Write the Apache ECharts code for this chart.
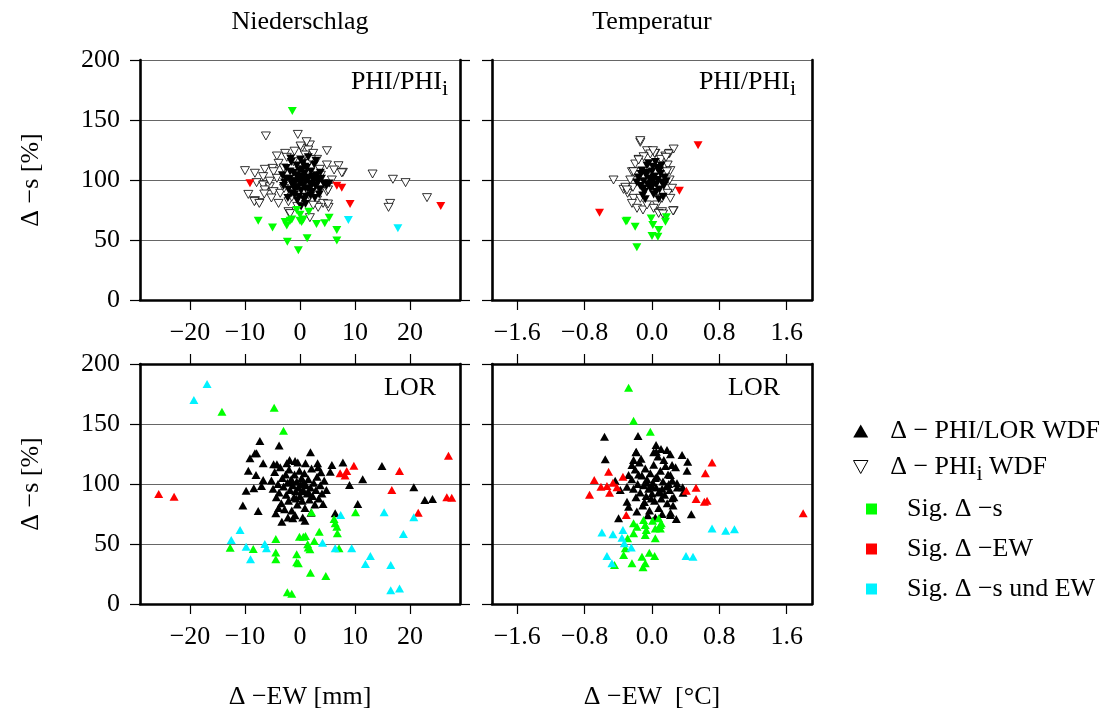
<!DOCTYPE html>
<html><head><meta charset="utf-8">
<script src="https://cdn.jsdelivr.net/npm/echarts@6/dist/echarts.min.js"></script>
<style>html,body{margin:0;padding:0;background:#fff}#c{width:1111px;height:713px}</style>
</head><body><div id="c"></div>
<script>
// ---------- tick labels ----------
const xTicksMM = [-20, -10, 0, 10, 20];
const xTicksC = [-1.6, -0.8, 0.0, 0.8, 1.6];
const yTicks = [0, 50, 100, 150, 200];

// ---------- Panel 1: Niederschlag, PHI/PHIi ----------
const p1Open = [[-6.2,136.7],[-0.4,138],[1.8,129.2],[0.3,126.4],[1.5,125],[4.9,124.4],[-2.7,122.2],[-4.2,120],[-2.4,118.9],[0.9,120.8],[2.4,122.2],[3.1,117.2],[-3.9,113.9],[-5,109.7],[-6.4,108.9],[-10,107.8],[-8.2,105.6],[-6.7,102.8],[-4.8,106.9],[-4.2,101.4],[4.9,112.5],[7.0,111.9],[7.8,106.4],[6.2,108.3],[3.6,108.9],[13.2,105],[-7.9,97.8],[-6.7,95.8],[-5.5,94.4],[-6.4,91.7],[-4.8,90.3],[-3.6,88.9],[-8.2,82.8],[-7.4,81.1],[-3.9,80.5],[-2.1,81.9],[-1.5,85.6],[0,83.3],[1.8,86.1],[3.1,83.3],[4.2,80.5],[3.3,77.2],[5.2,77.2],[1.8,68.6],[-2.1,73.6],[3.6,91.7],[4.9,90.3],[4.5,96.7],[2.7,101.4],[1.5,113.9],[-1.2,115.3],[1.2,131.9],[0.1,128.3],[16.9,100.6],[19.2,97.8],[23.1,85.3],[16.4,80.5],[16.1,77.2],[-6.5,88.3],[-9.4,88],[-8.3,82],[-7.4,80.5],[-1.8,72],[5.1,91.7],[5.1,80],[7.6,106],[-3.0,110],[-1.0,124],[2.0,117],[-5.5,99],[5.8,100],[3.8,104],[-2.9,93],[-0.5,78],[2.4,79],[-5.2,85]];
const p1Core = [[-3.2,104],[-2.8,98],[-2.5,110],[-2.1,92],[-1.9,101],[-1.6,115],[-1.4,96],[-1.2,106],[-1.0,88],[-0.8,99],[-0.6,112],[-0.4,94],[-0.3,103],[-0.1,108],[0.0,97],[0.2,91],[0.3,101],[0.5,114],[0.6,95],[0.8,105],[0.9,99],[1.1,86],[1.2,110],[1.4,93],[1.6,102],[1.8,97],[2.0,107],[2.2,90],[2.4,100],[2.6,113],[2.8,95],[3.0,104],[3.3,98],[3.6,92],[3.9,101],[4.3,97],[-2.2,85],[-0.5,83],[0.7,84],[1.9,87],[-3.0,95],[-1.7,118],[0.1,117],[1.5,119],[2.9,116],[-0.9,92],[0.4,109],[1.0,93],[-1.3,99],[2.3,103],[0.0,100],[1.3,100],[-0.7,104],[3.5,88],[4.8,95],[5.3,97],[0.2,78],[1.0,80],[-1.5,89],[2.7,85],[-2.6,101],[-1.1,94],[0.5,103],[1.7,92],[3.1,100],[-0.2,86],[2.1,96],[-1.8,107],[0.9,111],[3.7,106]];
const p1Green = [[-1.4,157.5],[-7.6,66],[-5.0,60.5],[-2.7,65],[-2.4,62],[-1.8,66],[-1.5,67],[-0.6,75],[0,71],[0,66],[0.3,65],[0.6,67],[1.6,73.5],[-2.3,48.5],[-0.3,41.5],[1.3,51.4],[3.0,63.3],[4.5,64],[5.3,68.6],[6.7,58.3],[6.7,49.5]];
const p1Red = [[-9.1,97.2],[6.7,95.3],[7.6,93.6],[9.1,80],[25.6,78.3]];
const p1Cyan = [[8.8,66.7],[17.8,59.7]];

// ---------- Panel 2: Temperatur, PHI/PHIi ----------
const p2Open = [[-0.139,131.4],[-0.059,124.4],[0.039,122.2],[-0.02,121.7],[0.158,120],[0.209,122.2],[0.107,117.2],[-0.159,117.2],[-0.199,113.3],[-0.1,119.4],[0.186,112.5],[0.218,107.8],[-0.238,106.9],[-0.457,100],[-0.258,100],[-0.338,92.2],[-0.29,88.9],[-0.226,93.9],[0.209,100],[0.238,93.1],[0.186,88.9],[0.218,84.7],[-0.219,84.7],[-0.238,80.5],[-0.178,76.4],[-0.107,75],[0.059,79.2],[0.119,73.6],[0.257,74.4],[-0.059,79.2],[-0.139,84.7],[0.119,84.7],[0.178,106.9],[-0.178,104.2],[0.019,76.4],[-0.139,132.8],[0.257,125.8],[0.198,121.7],[0.166,118.9],[0.25,74.2],[0.079,72.2],[0.131,71.7],[-0.317,93.9],[-0.297,91.7],[-0.219,106.9],[-0.159,116.7],[0.031,122.2],[0.012,124.4]];
const p2Core = [[-0.16,102],[-0.14,95],[-0.12,108],[-0.10,99],[-0.09,90],[-0.07,104],[-0.06,112],[-0.05,96],[-0.03,101],[-0.02,93],[0.00,107],[0.01,99],[0.02,88],[0.03,103],[0.05,96],[0.06,110],[0.07,100],[0.09,92],[0.10,105],[0.12,98],[0.13,86],[0.15,102],[-0.11,87],[-0.04,114],[0.04,115],[0.11,112],[-0.08,84],[0.08,84],[0.0,94],[-0.01,97],[0.02,102],[-0.13,105],[0.14,95],[0.17,99],[-0.18,98],[0.05,90],[-0.06,106],[0.09,108],[0.01,111],[-0.1,93]];
const p2Green = [[-0.297,66],[-0.2,61],[-0.01,68],[0.01,62.5],[0,53.3],[0.08,58.3],[0.07,52.8],[0.17,69],[0.16,65.3],[-0.18,43.9],[-0.31,65.5]];
const p2Red = [[0.547,129],[0.325,91],[-0.623,72.8]];
const p2Cyan = [];

// ---------- Panel 3: Niederschlag, LOR ----------
const p3Black = [[-7.3,135.8],[-3.8,132],[-7.9,125.6],[-8.2,125.6],[-9.1,121.4],[-6.7,117.2],[-9.4,111],[-8,107.5],[-6.7,103.3],[-7,98.3],[-8.4,96.4],[-9.8,94.4],[-10.4,82],[-7.6,77.5],[-4.4,75.6],[-3.3,68.6],[-1.3,71.4],[0.9,69.4],[1.9,126.4],[3.2,117.2],[3.8,109.7],[5.8,115.8],[5.5,110.3],[7.8,118],[11.4,104],[14.9,115],[9.0,99.2],[20.7,97.2],[22.7,86.7],[24.1,87.5],[10.5,83.3],[6.4,75.6],[4.2,83.3],[-4.2,116.4],[-4.8,116.4],[-2.4,117.2],[-0.9,119.2],[1.0,117.2],
[-5.2,103],[-4.9,96],[-4.6,110],[-4.3,89],[-4.0,100],[-3.8,93],[-3.6,114],[-3.4,84],[-3.2,105],[-3.0,98],[-2.8,79],[-2.6,108],[-2.5,91],[-2.3,101],[-2.1,86],[-2.0,112],[-1.8,95],[-1.6,104],[-1.5,78],[-1.3,99],[-1.1,89],[-1.0,108],[-0.8,94],[-0.6,102],[-0.5,83],[-0.3,97],[-0.1,111],[0.0,90],[0.1,100],[0.3,105],[0.4,86],[0.6,95],[0.8,109],[0.9,80],[1.1,99],[1.3,92],[1.5,104],[1.7,87],[1.9,97],[2.1,113],[2.3,90],[2.5,101],[2.7,83],[2.9,95],[3.1,106],[3.4,88],[3.7,99],[4.0,92],[4.4,103],[4.8,95],[-3.9,80],[-0.9,74],[0.5,72],[2.0,76],[-2.2,72],[-0.4,118],[-1.9,120],[3.3,114],[0.2,94],[-0.7,88],[1.6,93],[-1.4,102],[0.7,101]];
const p3Green = [[-14.2,160.3],[-4.7,163.6],[-3.0,144.4],[2.1,76.4],[10.1,76.4],[-12.7,46.9],[-8.5,45.8],[-4.4,54.2],[-4.4,43],[-4.4,37.2],[-0.6,41.4],[-0.6,34.7],[-0.3,34],[-0.1,56],[0.6,56],[1.0,56.7],[1.4,49.7],[1.5,47],[1.8,45.6],[2.6,52.5],[3.5,60.3],[1.9,26],[4.7,23.3],[-2.3,9.7],[-1.5,8.6],[6.2,70.8],[6.4,67.2],[6.7,64.4],[6.8,58.9],[7.1,46.4]];
const p3Red = [[-25.7,91.7],[-22.9,89.4],[27,123.6],[26.7,88.9],[27.6,88.6],[21.5,76],[16.7,95],[18.1,110.8],[9.8,115.2],[8.5,110.8],[7.3,108.9],[8.2,107]];
const p3Cyan = [[-16.9,183.3],[-19.3,170],[-10.9,61.7],[-12.5,53.3],[-9.8,47.8],[-9.0,37.2],[-6.4,50],[-6.1,46.4],[4.1,51.1],[6.4,46.4],[7.4,74.2],[9.4,46.4],[12.8,40],[11.9,33.3],[15.3,76.4],[16.5,32.5],[16.5,11.4],[18.1,13],[18.8,58.3],[20.7,72.2]];

// ---------- Panel 4: Temperatur, LOR ----------
const p4Black = [[-0.564,139.4],[-0.166,140],[-0.555,120.6],[-0.187,126.9],[0.048,132.5],[0.107,129.2],[0.178,128.3],[0.218,124.7],[0.357,124.2],[0.424,118.6],[0.416,111.1],[0.238,115.8],[0.051,126.9],[-0.397,71.4],[0.289,70.8],[0.467,74.7],[0.218,74.2],[-0.297,97.8],[-0.377,95],[-0.437,102.8],[0.238,88.1],[0.364,97.2],[0.297,100.6],[0.218,107.5],[-0.278,81.1],[-0.297,85.3],[-0.238,115.8],[-0.219,120],[-0.278,107.5],[0.368,92.8],[-0.19,126.4],[0.02,126.4],
[-0.24,104],[-0.22,96],[-0.2,112],[-0.19,89],[-0.17,100],[-0.15,118],[-0.14,93],[-0.12,107],[-0.11,82],[-0.1,99],[-0.08,113],[-0.07,90],[-0.06,104],[-0.04,96],[-0.03,78],[-0.02,109],[0.0,92],[0.01,101],[0.02,116],[0.03,86],[0.05,97],[0.06,106],[0.08,80],[0.09,94],[0.1,111],[0.11,88],[0.13,102],[0.14,120],[0.15,91],[0.17,98],[0.18,84],[0.19,108],[0.21,95],[0.22,76],[0.24,103],[0.26,89],[0.28,114],[0.3,97],[-0.18,77],[-0.05,74],[0.04,72],[0.12,75],[-0.13,121],[0.07,123],[-0.01,88],[0.16,115],[-0.09,85],[0.2,100],[-0.16,108],[0.25,82],[0.0,98],[0.08,93],[-0.06,101],[0.12,96],[0.04,105]];
const p4Green = [[-0.278,180.3],[-0.219,152.8],[-0.02,143.6],[0.079,71.4],[-0.1,70],[-0.219,67.2],[-0.178,64.4],[-0.08,65.8],[-0.068,61.7],[0.039,63],[0.099,65.8],[0.099,63],[-0.219,58.9],[-0.08,57.5],[0.039,54.7],[-0.29,54.7],[-0.317,46.4],[-0.337,40.8],[-0.238,33.9],[-0.445,32.5],[-0.119,39.4],[-0.032,42.8],[0.031,40],[-0.08,33.9],[-0.107,30.6],[0.007,69.4],[0.11,67.2]];
const p4Red = [[1.795,75.6],[-0.742,91],[-0.686,103.3],[-0.606,97.8],[-0.535,98.3],[-0.464,101.1],[-0.504,92.8],[-0.416,97.2],[-0.516,110.3],[-0.345,106.1],[-0.306,74.2],[0.408,94.4],[0.523,96.9],[0.523,87.5],[0.622,85.3],[0.654,86.1],[0.634,108.9],[0.713,118]];
const p4Cyan = [[-0.595,59.5],[-0.464,58.2],[-0.345,61.7],[-0.357,55.3],[-0.329,50.6],[-0.246,47],[-0.535,40],[-0.476,33.9],[0.713,62.9],[0.875,61.1],[0.979,62.2],[0.404,40],[0.487,39.4]];

// ---------- names ----------
const S_BLACK = 'Δ − PHI/LOR WDF';
const S_OPEN = 'Δ − PHIi WDF';
const S_CORE = 'PHI WDF';
const S_G = 'Sig. Δ −s';
const S_R = 'Sig. Δ −EW';
const S_C = 'Sig. Δ −s und EW';

const F = 'Liberation Serif';
const FS = 26;
const chart = echarts.init(document.getElementById('c'), null, {renderer: 'canvas'});

const grids = [
  {left: 140, top: 60, width: 320, height: 240},
  {left: 492, top: 60, width: 320, height: 240},
  {left: 140, top: 364, width: 320, height: 240},
  {left: 492, top: 364, width: 320, height: 240}
];
const minusFmt = d => v => (v < 0 ? '\u2212' : '') + Math.abs(v).toFixed(d);
const thick = {show: true, onZero: false, lineStyle: {color: '#000', width: 2.6}};
const lblStyle = {color: '#000', fontFamily: F, fontSize: FS};

function xAx(gi, pos, lim, ticks, dec, showLbl, name) {
  return {
    type: 'value', gridIndex: gi, position: pos, min: -lim, max: lim,
    axisLine: thick, splitLine: {show: false},
    axisTick: {show: true, inside: false, length: 10, customValues: ticks, lineStyle: {color: '#000', width: 1.2}},
    axisLabel: Object.assign({show: showLbl, margin: 20, customValues: ticks, formatter: minusFmt(dec)}, lblStyle),
    name: name || '', nameLocation: 'middle', nameGap: 80,
    nameTextStyle: {color: '#000', fontFamily: F, fontSize: FS}
  };
}
function yAx(gi, pos, ticksShow, lbl, name, split) {
  return {
    type: 'value', gridIndex: gi, position: pos, min: 0, max: 200, interval: 50,
    axisLine: thick,
    axisTick: {show: ticksShow, inside: false, length: 10, lineStyle: {color: '#000', width: 1.2}},
    axisLabel: Object.assign({show: lbl, margin: 20}, lblStyle),
    splitLine: {show: split, lineStyle: {color: '#666', width: 1.2}},
    name: name || '', nameLocation: 'middle', nameGap: 96, nameRotate: 90,
    nameTextStyle: {color: '#000', fontFamily: F, fontSize: FS}
  };
}

const xAxis = [
  xAx(0, 'bottom', 29.1, xTicksMM, 0, true),
  xAx(1, 'bottom', 1.9, xTicksC, 1, true),
  xAx(2, 'bottom', 29.1, xTicksMM, 0, true, 'Δ −EW [mm]'),
  xAx(2, 'top', 29.1, xTicksMM, 0, false),
  xAx(3, 'bottom', 1.9, xTicksC, 1, true, 'Δ −EW  [°C]'),
  xAx(3, 'top', 1.9, xTicksC, 1, false)
];
const yAxis = [
  yAx(0, 'left', true, true, 'Δ −s [%]', true),
  yAx(0, 'right', true, false, '', false),
  yAx(1, 'left', true, false, '', true),
  yAx(1, 'right', false, false, '', false),
  yAx(2, 'left', true, true, 'Δ −s [%]', true),
  yAx(2, 'right', true, false, '', false),
  yAx(3, 'left', true, false, '', true),
  yAx(3, 'right', false, false, '', false)
];

const GREEN = '#00ff00', RED = '#ff0000', CYAN = '#00f2ff';
function sc(name, xi, yi, data, color, rot, open, z) {
  return {
    type: 'scatter', name: name, xAxisIndex: xi, yAxisIndex: yi, data: data,
    symbol: 'triangle', symbolSize: [9, 8], symbolRotate: rot, z: z,
    itemStyle: open ? {color: '#fff', borderColor: '#000', borderWidth: 0.8, opacity: 1}
                    : {color: color, opacity: 1},
    emphasis: {disabled: true}, animation: false
  };
}
const series = [
  sc(S_BLACK, 2, 4, p3Black, '#000', 0, false, 2),
  sc(S_G, 2, 4, p3Green, GREEN, 0, false, 3),
  sc(S_R, 2, 4, p3Red, RED, 0, false, 3),
  sc(S_C, 2, 4, p3Cyan, CYAN, 0, false, 3),
  sc(S_BLACK, 4, 6, p4Black, '#000', 0, false, 2),
  sc(S_G, 4, 6, p4Green, GREEN, 0, false, 3),
  sc(S_R, 4, 6, p4Red, RED, 0, false, 3),
  sc(S_C, 4, 6, p4Cyan, CYAN, 0, false, 3),
  sc(S_OPEN, 0, 0, p1Open, '#000', 180, true, 2),
  sc(S_CORE, 0, 0, p1Core, '#000', 180, false, 2),
  sc(S_G, 0, 0, p1Green, GREEN, 180, false, 3),
  sc(S_R, 0, 0, p1Red, RED, 180, false, 3),
  sc(S_C, 0, 0, p1Cyan, CYAN, 180, false, 3),
  sc(S_OPEN, 1, 2, p2Open, '#000', 180, true, 2),
  sc(S_CORE, 1, 2, p2Core, '#000', 180, false, 2),
  sc(S_G, 1, 2, p2Green, GREEN, 180, false, 3),
  sc(S_R, 1, 2, p2Red, RED, 180, false, 3),
  sc(S_C, 1, 2, p2Cyan, CYAN, 180, false, 3)
];

const richLeg = {
  b: {fontFamily: F, fontSize: FS, color: '#000', padding: [0, 0, 0, 17]},
  c: {fontFamily: F, fontSize: FS, color: '#000', padding: [0, 0, 0, 25]},
  a: {fontFamily: F, fontSize: FS, color: '#000'},
  s: {fontFamily: F, fontSize: 22, color: '#000', padding: [14, 0, 0, 0]}
};
const legend = [
  {
    left: 848, top: 413, orient: 'vertical', itemWidth: 15, itemHeight: 13, itemGap: 10,
    symbolRotate: 0, selectedMode: false,
    data: [
      {name: S_BLACK, icon: 'triangle', itemStyle: {color: '#000'}},
      {name: S_OPEN, icon: 'path://M0,0L10,0L5,9Z', itemStyle: {color: '#fff', borderColor: '#000', borderWidth: 1}}
    ],
    formatter: n => n === S_OPEN ? '{b|Δ − PHI}{s|i}{a| WDF}' : '{b|' + n + '}',
    textStyle: {rich: richLeg}
  },
  {
    left: 861, top: 491, orient: 'vertical', itemWidth: 11, itemHeight: 11, itemGap: 14,
    symbolRotate: 0, selectedMode: false,
    data: [{name: S_G, icon: 'rect'}, {name: S_R, icon: 'rect'}, {name: S_C, icon: 'rect'}],
    formatter: n => '{c|' + n + '}',
    textStyle: {rich: richLeg}
  }
];

const richPanel = {
  a: {fontFamily: F, fontSize: FS, fill: '#000'},
  s: {fontFamily: F, fontSize: 22, fill: '#000', padding: [14, 0, 0, 0]}
};
function gText(x, y, text, align) {
  return {type: 'text', x: x, y: y, z: 10,
    style: {text: text, fontFamily: F, fontSize: FS, fill: '#000', align: align || 'center', verticalAlign: 'middle', rich: richPanel}};
}
const graphic = [
  gText(300, 22, 'Niederschlag'),
  gText(652, 22, 'Temperatur'),
  gText(448, 82, '{a|PHI/PHI}{s|i}', 'right'),
  gText(796, 82, '{a|PHI/PHI}{s|i}', 'right'),
  gText(436, 388, 'LOR', 'right'),
  gText(780, 388, 'LOR', 'right')
];

chart.setOption({
  animation: false,
  backgroundColor: '#fff',
  grid: grids,
  xAxis: xAxis,
  yAxis: yAxis,
  series: series,
  legend: legend,
  graphic: graphic
});
</script>
</body></html>
